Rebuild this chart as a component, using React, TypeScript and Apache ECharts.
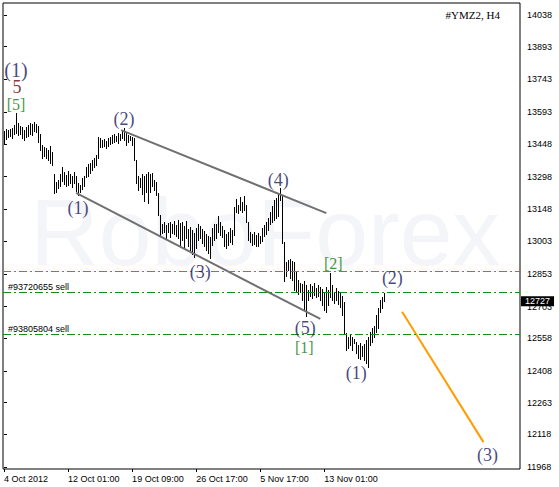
import React, { useEffect, useRef } from "react";
import * as echarts from "echarts";

// H4 bars (high / low), one per bar, oldest first
const highs = [
  13507, 13516, 13511, 13516, 13520, 13534, 13589, 13543, 13529, 13525,
  13511, 13525, 13534, 13543, 13539, 13548, 13539, 13529, 13493, 13443,
  13433, 13429, 13420, 13438, 13411, 13310, 13273, 13282, 13310, 13342,
  13319, 13305, 13324, 13310, 13301, 13319, 13301, 13269, 13259, 13292,
  13301, 13342, 13356, 13360, 13374, 13383, 13397, 13479, 13475, 13466,
  13470, 13461, 13475, 13479, 13488, 13493, 13484, 13498, 13493, 13507,
  13520, 13498, 13488, 13484, 13479, 13475, 13374, 13301, 13292, 13310,
  13301, 13310, 13319, 13310, 13315, 13282, 13273, 13223, 13122, 13081,
  13090, 13076, 13085, 13090, 13081, 13095, 13076, 13099, 13085, 13090,
  13072, 13095, 13058, 13067, 13053, 13040, 13062, 13081, 13072, 13058,
  13049, 13035, 13026, 13021, 13062, 13081, 13081, 13117, 13090, 13072,
  13053, 13035, 13044, 13062, 13053, 13159, 13195, 13168, 13205, 13182,
  13209, 13168, 13090, 13044, 13035, 13044, 13030, 13040, 13026, 13062,
  13076, 13090, 13108, 13136, 13163, 13191, 13200, 13223, 13246, 13214,
  12998, 12907, 12916, 12921, 12912, 12907, 12861, 12824, 12811, 12806,
  12820, 12801, 12779, 12806, 12797, 12811, 12788, 12801, 12792, 12783,
  12770, 12792, 12779, 12856, 12801, 12770, 12788, 12774, 12770, 12751,
  12724, 12580, 12563, 12572, 12563, 12554, 12540, 12527, 12536, 12522,
  12531, 12550, 12563, 12586, 12604, 12614, 12664, 12696, 12733, 12747,
  12765,
];
const lows = [
  13447, 13470, 13479, 13484, 13475, 13493, 13498, 13488, 13493, 13475,
  13466, 13479, 13484, 13493, 13488, 13507, 13502, 13456, 13420, 13383,
  13392, 13383, 13374, 13360, 13351, 13223, 13228, 13246, 13255, 13278,
  13264, 13255, 13259, 13269, 13250, 13269, 13232, 13214, 13228, 13241,
  13255, 13296, 13301, 13315, 13328, 13342, 13351, 13383, 13433, 13433,
  13438, 13429, 13438, 13447, 13452, 13456, 13461, 13452, 13466, 13475,
  13466, 13443, 13456, 13466, 13443, 13374, 13269, 13237, 13250, 13218,
  13186, 13228, 13177, 13228, 13255, 13237, 13214, 13122, 13026, 13040,
  13044, 13017, 13044, 13021, 13040, 13035, 13026, 13017, 12985, 13008,
  12971, 13017, 12980, 12962, 12944, 12930, 12971, 13008, 13017, 12994,
  12980, 12962, 12948, 12925, 12985, 13008, 13017, 13044, 13030, 13021,
  12980, 12971, 12985, 12998, 12989, 13030, 13136, 13131, 13145, 13136,
  13145, 13090, 13008, 12998, 12985, 12989, 12980, 12980, 12994, 13003,
  13026, 13035, 13053, 13081, 13090, 13099, 13108, 13117, 13191, 12994,
  12820, 12843, 12870, 12834, 12824, 12779, 12770, 12761, 12770, 12733,
  12687, 12660, 12733, 12751, 12742, 12756, 12747, 12751, 12733, 12710,
  12687, 12678, 12710, 12747, 12733, 12719, 12733, 12715, 12701, 12664,
  12580, 12504, 12513, 12527, 12504, 12536, 12490, 12467, 12463, 12476,
  12458, 12444, 12426, 12527, 12540, 12563, 12586, 12604, 12678, 12696,
  12728,
];

const xTickIndex = [0, 32, 64, 96, 128, 160];
const xTickLabels = ["4 Oct 2012", "12 Oct 01:00", "19 Oct 09:00", "26 Oct 17:00", "5 Nov 17:00", "13 Nov 01:00"];
const yTicks = [11968, 12118, 12263, 12408, 12558, 12703, 12853, 13003, 13148, 13298, 13448, 13593, 13743, 13893, 14038];
const lastPrice = 12727;
const orderPrices = [12865, 12769, 12577];
const orderLabels = ["", "#93720655 sell", "#93805804 sell"];
const upperChannel = [[58.5, 13511], [161, 13131]];
const lowerChannel = [[36, 13223], [158, 12646]];
const projection = [[198.85, 12679], [239.5, 12082]];
const waveText = ["(1)", "5", "[5]", "(2)", "(1)", "(3)", "(4)", "(5)", "[1]", "[2]", "(2)", "(1)", "(3)"];
const waveX = [6, 6.5, 6, 60, 37, 98, 137, 150.5, 150, 164.5, 194, 176, 241.5];
const waveY = [13786, 13708, 13630, 13562, 13154, 12861, 13282, 12604, 12517, 12898, 12834, 12398, 12023];
const symbolTitle = "#YMZ2, H4";
const watermark = "RoboForex";

const SANS = "'Liberation Sans', Arial, sans-serif";
const SERIF = "'Liberation Serif', 'Times New Roman', serif";

function waveColor(t: string) {
  if (t.startsWith("(")) return "#15155e";
  if (t.startsWith("[")) return "#0a7a0a";
  return "#700000";
}

export default function App() {
  const ref = useRef<HTMLDivElement>(null);
  useEffect(() => {
    if (!ref.current) return;
    const chart = echarts.init(ref.current, null, { renderer: "svg" });
    const dash = [8, 3, 2, 3];
    const option: any = {
      animation: false,
      backgroundColor: "#fff",
      grid: { left: 3, right: 39, top: 3, bottom: 18, show: true, borderColor: "#000", borderWidth: 1 },
      xAxis: {
        type: "value",
        min: -0.5,
        max: 257.75,
        axisLine: { show: false },
        splitLine: { show: false },
        axisTick: { show: true, customValues: xTickIndex, length: 3, lineStyle: { color: "#000" } },
        axisLabel: {
          customValues: xTickIndex,
          formatter: (v: number) => xTickLabels[xTickIndex.indexOf(v)] ?? "",
          align: "left",
          color: "#000",
          fontSize: 9,
          fontFamily: SANS,
          margin: 5,
        },
      },
      yAxis: {
        type: "value",
        position: "right",
        min: 11959,
        max: 14093,
        axisLine: { show: false },
        splitLine: { show: false },
        axisTick: { show: true, customValues: yTicks, length: 3, lineStyle: { color: "#000" } },
        axisLabel: {
          customValues: yTicks,
          formatter: (v: number) => String(v),
          color: "#000",
          fontSize: 9,
          fontFamily: SANS,
          margin: 7,
        },
      },
      graphic: [
        {
          type: "text",
          z: -10,
          silent: true,
          x: 265,
          y: 232,
          style: { text: watermark, fill: "#f3f5f8", fontSize: 95, fontFamily: SANS, textAlign: "center", textVerticalAlign: "middle" },
        },
        {
          type: "text",
          x: 500,
          y: 15,
          style: { text: symbolTitle, fill: "#000", fontSize: 11, fontFamily: SERIF, textAlign: "right", textVerticalAlign: "middle" },
        },
      ],
      series: [
        {
          type: "custom",
          z: 3,
          data: highs.map((h, i) => [i, h, lows[i]]),
          encode: { x: 0, y: [1, 2] },
          renderItem: (params: any, api: any) => {
            const top = api.coord([api.value(0), api.value(1)]);
            const bot = api.coord([api.value(0), api.value(2)]);
            const x = Math.round(top[0]) + 0.5;
            return {
              type: "line",
              shape: { x1: x, y1: Math.round(top[1]), x2: x, y2: Math.round(bot[1]) + 1 },
              style: { stroke: "#000", lineWidth: 1 },
            };
          },
        },
        {
          type: "line",
          data: upperChannel,
          symbol: "none",
          lineStyle: { color: "#707070", width: 2 },
          z: 4,
          markLine: {
            silent: true,
            symbol: ["none", "none"],
            animation: false,
            data: orderPrices
              .map((p, i) => ({
                yAxis: p,
                lineStyle: { color: i === 0 ? "#ff4a10" : "#109010", type: dash, width: 1 },
                label: {
                  show: orderLabels[i] !== "",
                  formatter: orderLabels[i],
                  position: "insideStartTop",
                  color: "#000",
                  fontSize: 9,
                  fontFamily: SANS,
                  distance: [5, 1],
                },
              }))
              .concat([
                {
                  yAxis: lastPrice,
                  lineStyle: { color: "rgba(0,0,0,0)", type: "solid", width: 1 } as any,
                  label: {
                    show: true,
                    formatter: String(lastPrice),
                    position: "end",
                    color: "#fff",
                    backgroundColor: "#000",
                    padding: [1, 4, 0, 4],
                    fontSize: 9,
                    fontFamily: SANS,
                    distance: 1,
                  } as any,
                },
              ]),
          },
        },
        {
          type: "line",
          data: lowerChannel,
          symbol: "none",
          lineStyle: { color: "#707070", width: 2 },
          z: 4,
        },
        {
          type: "line",
          data: projection,
          symbol: "none",
          lineStyle: { color: "#ff9c00", width: 2 },
          z: 4,
        },
        {
          type: "scatter",
          symbolSize: 0,
          z: 6,
          data: waveText.map((t, i) => ({
            value: [waveX[i], waveY[i]],
            label: {
              show: true,
              position: "inside",
              formatter: t,
              color: waveColor(t),
              fontSize: i === 0 ? 20 : t.startsWith("[") ? 16 : 18,
              fontFamily: SERIF,
            },
          })),
        },
      ],
    };
    chart.setOption(option);
    return () => chart.dispose();
  }, []);
  return (
    <div
      ref={ref}
      style={{ position: "fixed", left: 0, top: 0, width: 559, height: 487, background: "#fff" }}
    />
  );
}
